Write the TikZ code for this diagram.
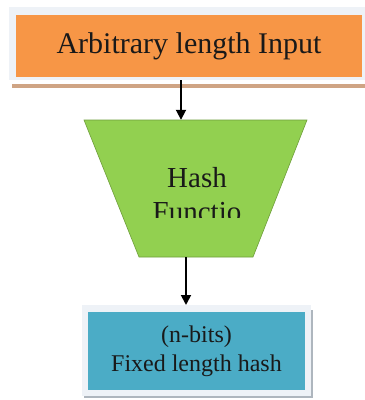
\documentclass[tikz,border=0pt]{standalone}
\usepackage{fontspec}
\setmainfont{Liberation Serif}
\usetikzlibrary{arrows.meta}
\definecolor{inorange}{HTML}{F79646}
\definecolor{hashgreen}{HTML}{92D050}
\definecolor{hashgreendk}{HTML}{6E9E3A}
\definecolor{outblue}{HTML}{4BACC6}
\definecolor{framegray}{HTML}{EEF2F7}
\definecolor{tanline}{HTML}{CFA484}
\definecolor{shadowgray}{HTML}{AEB6BE}
\tikzset{
  boxframe/.style={fill=framegray, draw=none},
  flow/.style={draw=black, line width=1.8pt, -{Triangle[length=10pt,width=10pt]}},
  lbl/.style={font=\fontsize{30}{34}\selectfont, text=black!90},
}
\begin{document}
\begin{tikzpicture}[x=1pt,y=-1pt]
\useasboundingbox (0,0) rectangle (365,400);
\fill[white] (0,0) rectangle (365,400);

% input block: pale frame, orange body, tan rule underneath
\fill[boxframe] (9,7) rectangle (365,80);
\fill[tanline] (12,84) rectangle (365,88);
\node[fill=inorange, inner sep=0pt, minimum width=346pt, minimum height=62pt,
      lbl] (input) at (189,46) {Arbitrary length Input};

% hash function: inverted trapezium
\filldraw[fill=hashgreen, draw=hashgreendk, line width=0.6pt]
  (84,120) -- (307,120) -- (253,257) -- (139,257) -- cycle;
\node[inner sep=0pt, minimum width=223pt, minimum height=137pt] (hash) at (195.5,188.5) {};
% the second line of the label is cut off just above its baseline
\begin{scope}
  \clip (100,150) rectangle (300,217);
  \node[font=\fontsize{29}{34}\selectfont, align=center, text=black!90]
    (hashtext) at (197,195) {Hash\\Functio};
\end{scope}

% output block: pale frame with grey shadow, blue body
\fill[shadowgray] (311,310) rectangle (313,398);
\fill[shadowgray] (84,396) rectangle (313,398);
\fill[boxframe] (82,305) rectangle (311,396);
\node[fill=outblue, inner sep=0pt, minimum width=217pt, minimum height=78pt,
      font=\fontsize{24}{29}\selectfont, align=center, text=black!90]
  (output) at (196.5,351) {(n-bits)\\Fixed length hash};

% connectors
\draw[flow] (input.south -| 181,0) ++(0,3) coordinate (a1) -- (a1 |- hash.north);
\draw[flow] (hash.south -| 186,0) -- (186,305);
\end{tikzpicture}
\end{document}
